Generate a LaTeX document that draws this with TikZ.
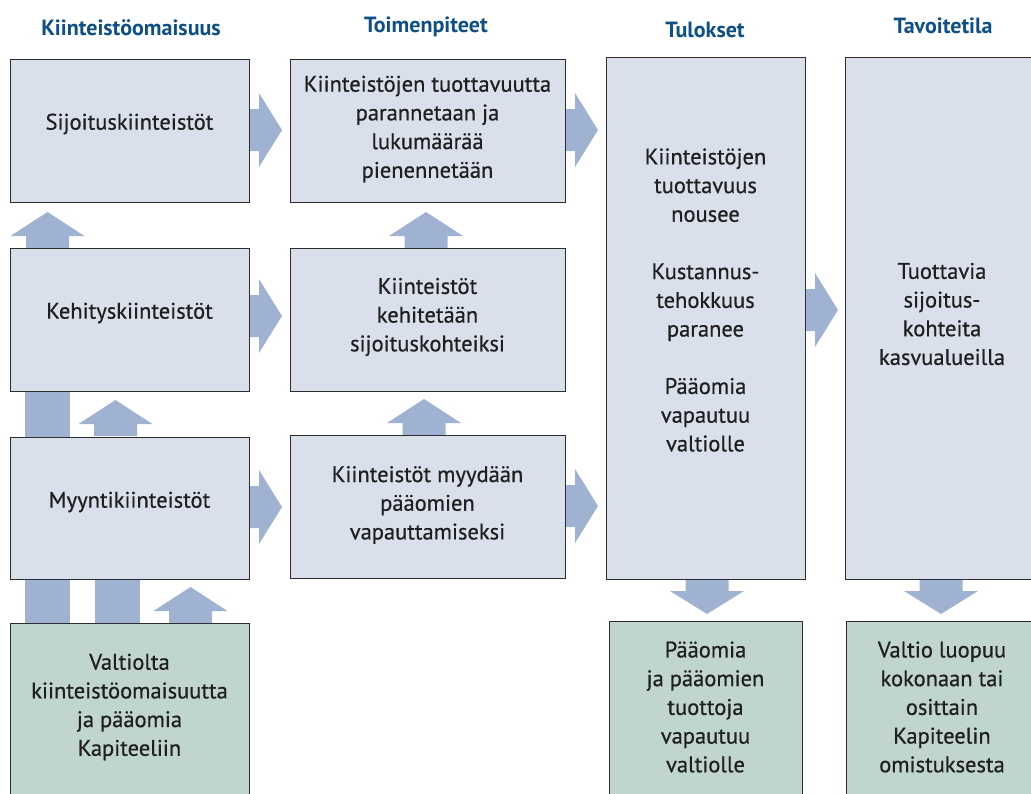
\documentclass[tikz,border=0pt]{standalone}
\usepackage{fontspec}
\setmainfont{PT Sans}
\newfontfamily\medfont{PT Sans}[FakeBold=0.6]
\definecolor{boxfill}{HTML}{D9E0EC}
\definecolor{greenfill}{HTML}{C0D5CB}
\definecolor{arrfill}{HTML}{9FB2D2}
\definecolor{headblue}{HTML}{0D4F86}
\definecolor{edge}{HTML}{2E2E2E}
\tikzset{
  box/.style={draw=edge, line width=1pt, fill=boxfill, anchor=north west, inner sep=0pt, outer sep=0pt},
  gbox/.style={box, fill=greenfill},
  txt/.style={align=center, font=\medfont\fontsize{22.5}{28.7}\selectfont, text=black!88, inner sep=0pt},
  head/.style={font=\bfseries\fontsize{22}{24}\selectfont, text=headblue, inner sep=0pt},
  arr/.style={fill=arrfill, draw=none},
  pics/rarr/.style={code={\fill[arr] (0,-21) -- (10,-21) -- (10,-37) -- (33,0) -- (10,37) -- (10,21) -- (0,21) -- cycle;}},
  pics/uarr/.style={code={\fill[arr] (-21.5,0) -- (-21.5,-12) -- (-37,-12) -- (0,-36) -- (37,-12) -- (21.5,-12) -- (21.5,0) -- cycle;}},
  pics/darr/.style={code={\fill[arr] (-21.5,0) -- (-21.5,12) -- (-37,12) -- (0,35) -- (37,12) -- (21.5,12) -- (21.5,0) -- cycle;}},
}
\begin{document}
\begin{tikzpicture}[x=1pt,y=-1pt]
\useasboundingbox (0,0) rectangle (1031,793);
\clip (0,0) rectangle (1031,793);
% headers
\node[head] (h1) at (131,28) {Kiinteistöomaisuus};
\node[head] (h2) at (426,27) {Toimenpiteet};
\node[head] (h3) at (705,30) {Tulokset};
\node[head] (h4) at (943,26) {Tavoitetila};
% column 1
\node[box, minimum width=239, minimum height=143] (sij) at (10,59) {};
\node[box, minimum width=239, minimum height=143] (keh) at (10,248) {};
\node[box, minimum width=239, minimum height=142] (myy) at (10,437) {};
\node[gbox, minimum width=239, minimum height=220] (val) at (10,623) {};
% column 2
\node[box, minimum width=275, minimum height=143] (tuo) at (290,59) {};
\node[box, minimum width=275, minimum height=143] (kek) at (290,248) {};
\node[box, minimum width=275, minimum height=143] (myd) at (290,435) {};
% column 3
\node[box, minimum width=199, minimum height=522] (tul) at (606,57) {};
\node[gbox, minimum width=193, minimum height=220] (paa) at (609,621) {};
% column 4
\node[box, minimum width=196, minimum height=522] (tav) at (845,57) {};
\node[gbox, minimum width=194, minimum height=220] (luo) at (846,621) {};
% texts
\node[txt] (sijT) at (129.5,124) {Sijoituskiinteistöt};
\node[txt] (kehT) at (129.5,313) {Kehityskiinteistöt};
\node[txt] (myyT) at (129.5,502) {Myyntikiinteistöt};
\node[txt] (valT) at (129.5,707) {Valtiolta\\kiinteistöomaisuutta\\ja pääomia\\Kapiteeliin};
\node[txt] (tuoT) at (427.5,129) {Kiinteistöjen tuottavuutta\\parannetaan ja\\lukumäärää\\pienennetään};
\node[txt] (kekT) at (427.5,317) {Kiinteistöt\\kehitetään\\sijoituskohteiksi};
\node[txt] (mydT) at (427.5,505) {Kiinteistöt myydään\\pääomien\\vapauttamiseksi};
\node[txt] (tulT) at (705.5,300) {Kiinteistöjen\\tuottavuus\\nousee\\[28.7pt]Kustannus-\\tehokkuus\\paranee\\[28.7pt]Pääomia\\vapautuu\\valtiolle};
\node[txt] (paaT) at (705.5,707) {Pääomia\\ja pääomien\\tuottoja\\vapautuu\\valtiolle};
\node[txt] (tavT) at (942,314) {Tuottavia\\sijoitus-\\kohteita\\kasvualueilla};
\node[txt] (luoT) at (942,707) {Valtio luopuu\\kokonaan tai\\osittain\\Kapiteelin\\omistuksesta};
% right arrows
\pic at (sij.east |- 0,130) {rarr};
\pic at (keh.east |- 0,316) {rarr};
\pic at (myy.east |- 0,507) {rarr};
\pic at (tuo.east |- 0,130) {rarr};
\pic at (myd.east |- 0,506) {rarr};
\pic at (tul.east |- 0,310) {rarr};
% up arrows
\pic at (47.5,248) {uarr};
\pic at (115.5,436) {uarr};
\pic at (190.5,623) {uarr};
\pic at (426,248) {uarr};
\pic at (424,435) {uarr};
% bars
\fill[arr] (25,391) rectangle (70,437);
\fill[arr] (25,579) rectangle (70,623);
\fill[arr] (95,579) rectangle (140,623);
% down arrows
\pic at (707,579) {darr};
\pic at (941,579) {darr};
% redraw box borders over bars
\foreach \n in {keh,myy,val,sij,tuo,kek,myd,tul,tav,paa,luo} \draw[edge, line width=1pt] (\n.north west) rectangle (\n.south east);
\end{tikzpicture}
\end{document}
